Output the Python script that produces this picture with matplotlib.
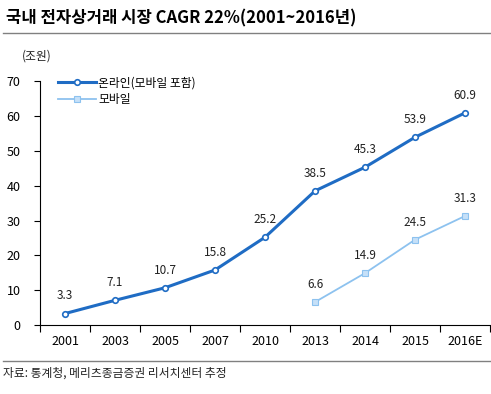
import matplotlib
matplotlib.use("Agg")
import matplotlib.pyplot as plt
import numpy as np

plt.rcParams["font.family"] = ["Noto Sans CJK KR", "DejaVu Sans"]

years = ["2001", "2003", "2005", "2007", "2010", "2013", "2014", "2015", "2016E"]
online = [3.3, 7.1, 10.7, 15.8, 25.2, 38.5, 45.3, 53.9, 60.9]
mobile_years = ["2013", "2014", "2015", "2016E"]
mobile = [6.6, 14.9, 24.5, 31.3]

ONLINE_COLOR = "#1f6cc4"
MOBILE_COLOR = "#8dc2ef"

fig = plt.figure(figsize=(4.91, 3.94), dpi=100)
ax = fig.add_axes([0.0815, 0.175, 0.9165, 0.619])

x = np.arange(len(years))
mx = np.array([years.index(y) for y in mobile_years])

ax.plot(x, online, color=ONLINE_COLOR, linewidth=2.2, marker="o", markersize=4,
        markerfacecolor="white", markeredgecolor=ONLINE_COLOR, markeredgewidth=1.2,
        label="온라인(모바일 포함)")
ax.plot(mx, mobile, color=MOBILE_COLOR, linewidth=1.3, marker="s", markersize=5,
        markerfacecolor="#c6e0f8", markeredgecolor=MOBILE_COLOR, markeredgewidth=0.8,
        label="모바일")

for xi, v in zip(x, online):
    ax.annotate(f"{v:.1f}", (xi, v), xytext=(0, 8), textcoords="offset points",
                ha="center", va="bottom", fontsize=8.5, color="#222222")
for xi, v in zip(mx, mobile):
    ax.annotate(f"{v:.1f}", (xi, v), xytext=(0, 8), textcoords="offset points",
                ha="center", va="bottom", fontsize=8.5, color="#222222")

ax.set_xlim(-0.5, len(years) - 0.5)
ax.set_ylim(0, 70)
ax.set_yticks(range(0, 71, 10))
ax.set_xticks(x)
ax.set_xticklabels(years)
ax.set_xticks(np.arange(-0.5, len(years), 1.0), minor=True)
ax.tick_params(axis="x", which="major", length=0, pad=7, labelsize=9)
ax.tick_params(axis="x", which="minor", length=5, width=0.8, direction="out")
ax.tick_params(axis="y", length=4, width=0.8, direction="out", pad=10, labelsize=9)
for side in ["top", "right"]:
    ax.spines[side].set_visible(False)
for side in ["left", "bottom"]:
    ax.spines[side].set_linewidth(0.8)

ax.legend(loc="upper left", bbox_to_anchor=(0.03, 1.04), frameon=False, fontsize=8.5,
          handlelength=3.2, handletextpad=0.2, labelspacing=0.3, borderaxespad=0)

fig.text(0.045, 0.85, "(조원)", fontsize=8.5, color="#222222")
fig.text(0.012, 0.952, "국내 전자상거래 시장 CAGR 22%(2001~2016년)", fontsize=12,
         fontweight="bold", va="center")
fig.add_artist(plt.Line2D([0.006, 1.0], [0.916, 0.916], color="#808080", linewidth=1.0))
fig.add_artist(plt.Line2D([0.006, 1.0], [0.083, 0.083], color="#808080", linewidth=1.0))
fig.text(0.006, 0.052, "자료: 통계청, 메리츠종금증권 리서치센터 추정", fontsize=8.5,
         va="center", color="#222222")

fig.savefig("out.png", dpi=100)
